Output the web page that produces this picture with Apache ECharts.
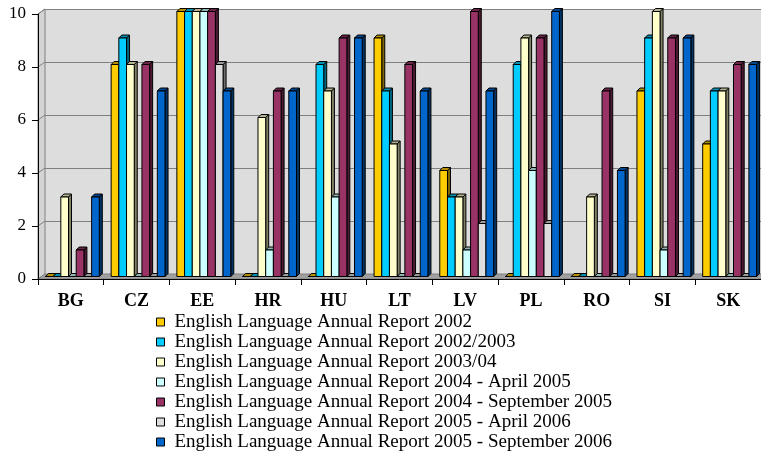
<!DOCTYPE html>
<html><head><meta charset="utf-8">
<script src="https://cdn.jsdelivr.net/npm/echarts@6/dist/echarts.min.js"></script>
<style>html,body{margin:0;padding:0;background:#fff}#c{width:761px;height:459px}</style>
</head><body><div id="c"></div>
<script>
var categories = ['BG','CZ','EE','HR','HU','LT','LV','PL','RO','SI','SK'];
var seriesNames = [
  'English Language Annual Report 2002',
  'English Language Annual Report 2002/2003',
  'English Language Annual Report 2003/04',
  'English Language Annual Report 2004 - April 2005',
  'English Language Annual Report 2004 - September 2005',
  'English Language Annual Report 2005 - April 2006',
  'English Language Annual Report 2005 - September 2006'
];
var r2002      = [0, 8, 10, 0, 0, 9, 4, 0, 0, 7, 5];
var r2002_2003 = [0, 9, 10, 0, 8, 7, 3, 8, 0, 9, 7];
var r2003_04   = [3, 8, 10, 6, 7, 5, 3, 9, 3, 10, 7];
var r2004Apr   = [0, 0, 10, 1, 3, 0, 1, 4, 0, 1, 0];
var r2004Sep   = [1, 8, 10, 7, 9, 8, 10, 9, 7, 9, 8];
var r2005Apr   = [0, 0, 8, 0, 0, 0, 2, 2, 0, 0, 0];
var r2005Sep   = [3, 7, 7, 7, 9, 7, 7, 10, 4, 9, 8];
var yTicks = [0, 2, 4, 6, 8, 10];

var allSeries = [r2002, r2002_2003, r2003_04, r2004Apr, r2004Sep, r2005Apr, r2005Sep];
var colors = ['#FFCC00','#00CCFF','#FFFFCC','#CCFFFF','#993366','#DDDDDD','#0066CC'];
var tops   = ['#B38F00','#008FB3','#B3B38F','#8FB3B3','#6B2447','#9A9A9A','#00478F'];
var sides  = ['#806600','#006680','#808066','#668080','#4D1A33','#6E6E6E','#003366'];

var GL = 38, GT = 14, GH = 265, GW = 726, DX = 7, DY = 5;
var FONT = 'Liberation Serif, Times New Roman, serif';

function renderItem(s) {
  return function (params, api) {
    var cat = api.value(0), v = api.value(1);
    var base = api.coord([cat, 0]);
    var topP = api.coord([cat, v]);
    var band = api.size([1, 0])[0];
    var pitch = band * 0.82 / 7;
    var x0 = base[0] - band * 0.41 + s * pitch + 1.5;
    var yb = base[1] - 2.5, yt = topP[1] - 2.5;
    var w = pitch, d = 3;
    var st = {stroke: '#000', lineWidth: 1};
    return {
      type: 'group',
      children: [
        {type: 'polygon', shape: {points: [[x0 + w, yb], [x0 + w + d, yb - d], [x0 + w + d, yt - d], [x0 + w, yt]]},
          style: Object.assign({fill: sides[s]}, st)},
        {type: 'polygon', shape: {points: [[x0, yt], [x0 + d, yt - d], [x0 + w + d, yt - d], [x0 + w, yt]]},
          style: Object.assign({fill: tops[s]}, st)},
        {type: 'rect', shape: {x: x0, y: yt, width: w, height: yb - yt},
          style: Object.assign({fill: colors[s]}, st)}
      ]
    };
  };
}

var series = allSeries.map(function (arr, s) {
  return {
    name: seriesNames[s],
    type: 'custom',
    xAxisIndex: 0, yAxisIndex: 0,
    z: 5,
    itemStyle: {color: colors[s], borderColor: '#000', borderWidth: 1},
    renderItem: renderItem(s),
    encode: {x: 0, y: 1},
    data: arr.map(function (v, i) { return [i, v]; })
  };
});

var chart = echarts.init(document.getElementById('c'));
chart.setOption({
  animation: false,
  grid: [
    {left: GL, top: GT, width: GW, height: GH, show: false},
    {left: GL + DX, top: GT - DY, width: GW, height: GH, show: true, backgroundColor: '#DDDDDD', borderWidth: 0}
  ],
  xAxis: [
    {type: 'category', gridIndex: 0, data: categories, boundaryGap: true,
      axisLine: {show: true, lineStyle: {color: '#000', width: 1}},
      axisTick: {show: true, length: 6, alignWithLabel: false, lineStyle: {color: '#000'}},
      axisLabel: {color: '#000', fontFamily: FONT, fontSize: 18, fontWeight: 'bold', margin: 13},
      z: 6},
    {type: 'category', gridIndex: 1, data: categories, show: false}
  ],
  yAxis: [
    {type: 'value', gridIndex: 0, min: 0, max: 10, interval: 2,
      axisLine: {show: true, lineStyle: {color: '#000', width: 1}},
      axisTick: {show: true, length: 6, lineStyle: {color: '#000'}},
      splitLine: {show: false},
      axisLabel: {color: '#000', fontFamily: FONT, fontSize: 17, margin: 12},
      z: 6},
    {type: 'value', gridIndex: 1, min: 0, max: 10, interval: 2,
      axisLine: {show: false}, axisTick: {show: false}, axisLabel: {show: false},
      splitLine: {show: true, lineStyle: {color: '#808080', width: 1}}}
  ],
  legend: {
    orient: 'vertical', left: 156, top: 312, itemWidth: 8, itemHeight: 8, itemGap: 0,
    padding: 0,
    icon: 'rect',
    itemStyle: {borderColor: '#000', borderWidth: 1},
    textStyle: {fontFamily: FONT, fontSize: 19, color: '#000', lineHeight: 20, padding: [0, 0, 0, 5]},
    data: seriesNames
  },
  series: series
});

// 3D walls: left wall and floor, derived from the axes
var yf = function (t) { return chart.convertToPixel({yAxisIndex: 0}, t); };
var yk = function (t) { return chart.convertToPixel({yAxisIndex: 1}, t); };
var g = [];
g.push({type: 'polygon', z: 1, shape: {points: [[GL, yf(10)], [GL + DX, yk(10)], [GL + DX, yk(0)], [GL, yf(0)]]},
  style: {fill: '#D4D4D4', stroke: '#808080', lineWidth: 1}});
yTicks.forEach(function (t) {
  if (t === 0) return;
  g.push({type: 'line', z: 2, shape: {x1: GL, y1: yf(t), x2: GL + DX, y2: yk(t)}, style: {stroke: '#808080', lineWidth: 1}});
});
g.push({type: 'polygon', z: 3, shape: {points: [[GL, yf(0)], [GL + DX, yk(0)], [GL + DX + GW, yk(0)], [GL + GW, yf(0)]]},
  style: {fill: '#A0A0A0', stroke: '#808080', lineWidth: 1}});
chart.setOption({graphic: g});
</script></body></html>
